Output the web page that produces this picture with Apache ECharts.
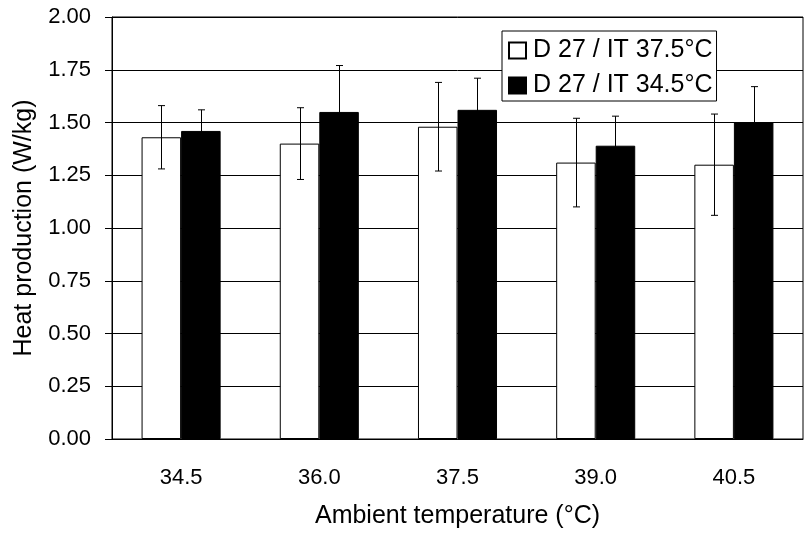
<!DOCTYPE html>
<html>
<head>
<meta charset="utf-8">
<script src="https://cdn.jsdelivr.net/npm/echarts@6/dist/echarts.min.js"></script>
<style>
    html, body { margin: 0; padding: 0; background: #fff; }
    #chart { width: 806px; height: 534px; }
</style>
</head>
<body>
<div id="chart"></div>
<script>
    // 数据
    var categories = ['34.5', '36.0', '37.5', '39.0', '40.5'];
    var whiteMean = [1.43, 1.40, 1.48, 1.31, 1.30];
    var whiteSd = [0.15, 0.17, 0.21, 0.21, 0.24];
    var blackMean = [1.46, 1.55, 1.56, 1.39, 1.50];
    var blackSd = [0.10, 0.22, 0.15, 0.14, 0.17];
    var yTicks = [0, 0.25, 0.5, 0.75, 1, 1.25, 1.5, 1.75, 2];

    var font = 'Liberation Sans, Arial, sans-serif';
    var barRatio = 0.286;

    var errData = function(mean, sd){
        var out = [];
        for( var i = 0; i < mean.length; i++ ){
            out.push([ i, mean[i] - sd[i], mean[i] + sd[i] ]);
        }
        return out;
    };

    var errRender = function(sign){
        return function(params, api){
            var idx = api.value(0);
            var lo = api.coord([idx, api.value(1)]);
            var hi = api.coord([idx, api.value(2)]);
            var band = api.size([1, 0])[0];
            var x = Math.round(lo[0] + sign * band * barRatio / 2) + 0.5;
            var cap = 3.5;
            var style = { stroke: '#000', lineWidth: 1 };
            return {
                type: 'group',
                children: [
                    { type: 'line', shape: { x1: x, y1: lo[1], x2: x, y2: hi[1] }, style: style },
                    { type: 'line', shape: { x1: x - cap, y1: lo[1], x2: x + cap, y2: lo[1] }, style: style },
                    { type: 'line', shape: { x1: x - cap, y1: hi[1], x2: x + cap, y2: hi[1] }, style: style }
                ]
            };
        };
    };

    var myChart = echarts.init(document.getElementById('chart'));
    var option = {
        animation: false,
        backgroundColor: '#fff',
        textStyle: { fontFamily: font, color: '#000' },
        grid: {
            left: 112, right: 3, top: 17, bottom: 92,
            show: true, borderColor: '#000', borderWidth: 1
        },
        legend: {
            left: 502, top: 31,
            orient: 'vertical',
            data: [
                { name: 'D 27 / IT 37.5°C', icon: 'rect' },
                { name: 'D 27 / IT 34.5°C', icon: 'rect' }
            ],
            itemWidth: 17, itemHeight: 16, itemGap: 10,
            padding: [7, 4, 3, 6],
            backgroundColor: '#fff',
            borderColor: '#000', borderWidth: 1,
            textStyle: { fontFamily: font, fontSize: 25, color: '#000', padding: [0, 0, 0, 2] }
        },
        xAxis: {
            type: 'category',
            data: categories,
            name: 'Ambient temperature (°C)',
            nameLocation: 'middle',
            nameGap: 65,
            nameTextStyle: { fontFamily: font, fontSize: 25, color: '#000' },
            axisLine: { lineStyle: { color: '#000', width: 1 } },
            axisTick: { length: 9, lineStyle: { color: '#000' } },
            axisLabel: { fontFamily: font, fontSize: 22, color: '#000', margin: 28 }
        },
        yAxis: {
            type: 'value',
            min: 0, max: 2, interval: 0.25,
            name: 'Heat production (W/kg)',
            nameLocation: 'middle',
            nameGap: 75,
            nameTextStyle: { fontFamily: font, fontSize: 25, color: '#000' },
            axisLine: { show: true, lineStyle: { color: '#000', width: 1 } },
            axisTick: { show: true, length: 7, lineStyle: { color: '#000' } },
            axisLabel: {
                fontFamily: font, fontSize: 22, color: '#000', margin: 21,
                formatter: function(v){ return v.toFixed(2); }
            },
            splitLine: { lineStyle: { color: '#000', width: 1 } }
        },
        series: [
            {
                name: 'D 27 / IT 37.5°C',
                type: 'bar',
                data: whiteMean,
                barWidth: (barRatio * 100) + '%',
                barGap: '0%',
                itemStyle: { color: '#fff', borderColor: '#000', borderWidth: 1 }
            },
            {
                name: 'D 27 / IT 34.5°C',
                type: 'bar',
                data: blackMean,
                barWidth: (barRatio * 100) + '%',
                barGap: '0%',
                itemStyle: { color: '#000', borderColor: '#000', borderWidth: 1 }
            },
            {
                type: 'custom',
                renderItem: errRender(-1),
                data: errData(whiteMean, whiteSd),
                encode: { x: 0, y: [1, 2] },
                z: 5
            },
            {
                type: 'custom',
                renderItem: errRender(1),
                data: errData(blackMean, blackSd),
                encode: { x: 0, y: [1, 2] },
                z: 5
            }
        ]
    };
    myChart.setOption( option );
</script>
</body>
</html>
